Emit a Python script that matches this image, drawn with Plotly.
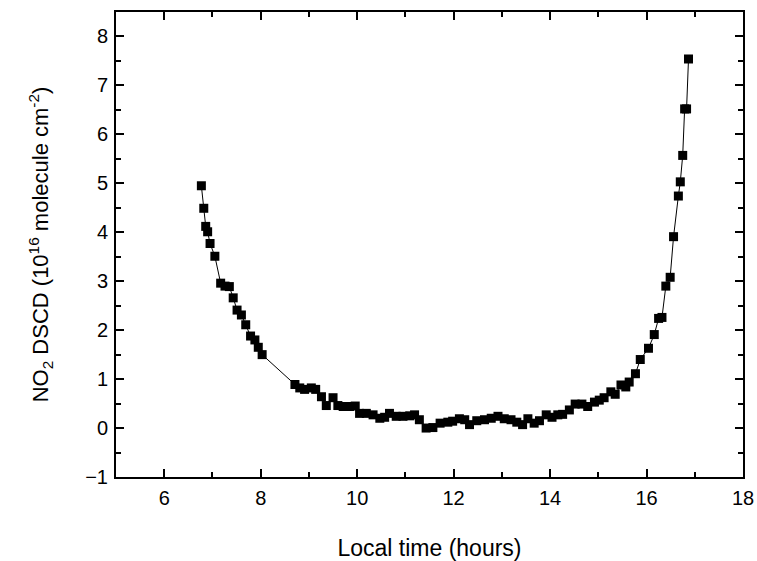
import plotly.graph_objects as go

local_time = [
    6.77, 6.82, 6.86, 6.90, 6.95, 7.05, 7.17, 7.26, 7.35, 7.43, 7.51, 7.60, 7.69, 7.79, 7.88, 7.95, 8.03,
    8.71, 8.81, 8.91, 9.05, 9.14, 9.26, 9.36, 9.50, 9.60, 9.71, 9.84, 9.96,
    10.05, 10.19, 10.33, 10.47, 10.57, 10.67, 10.81, 10.95,
    11.09, 11.19, 11.29, 11.43, 11.57, 11.72, 11.88, 11.98,
    12.12, 12.23, 12.33, 12.48, 12.64, 12.78, 12.92,
    13.05, 13.19, 13.31, 13.43, 13.54, 13.67, 13.78, 13.92,
    14.04, 14.16, 14.26, 14.40, 14.52, 14.66, 14.78, 14.92,
    15.02, 15.12, 15.26, 15.35, 15.47, 15.57, 15.64, 15.77, 15.87,
    16.04, 16.16, 16.25, 16.32, 16.40, 16.49, 16.56, 16.66, 16.70, 16.75, 16.79, 16.83, 16.87,
]

no2_dscd = [
    4.95, 4.49, 4.12, 4.01, 3.77, 3.51, 2.96, 2.90, 2.89, 2.66, 2.41, 2.31, 2.11, 1.88, 1.80, 1.65, 1.50,
    0.89, 0.82, 0.79, 0.82, 0.79, 0.64, 0.46, 0.62, 0.46, 0.44, 0.44, 0.45,
    0.30, 0.30, 0.27, 0.20, 0.22, 0.30, 0.24, 0.24,
    0.25, 0.27, 0.17, 0.00, 0.01, 0.10, 0.12, 0.14,
    0.19, 0.17, 0.07, 0.15, 0.17, 0.20, 0.24,
    0.19, 0.17, 0.12, 0.07, 0.19, 0.10, 0.15, 0.27,
    0.22, 0.27, 0.28, 0.37, 0.49, 0.49, 0.44, 0.53,
    0.57, 0.62, 0.74, 0.69, 0.88, 0.84, 0.94, 1.11, 1.40,
    1.63, 1.91, 2.24, 2.26, 2.90, 3.08, 3.91, 4.74, 5.03, 5.57, 6.52, 6.52, 7.54,
]

x_tick_vals = [6, 8, 10, 12, 14, 16, 18]
y_tick_vals = [-1, 0, 1, 2, 3, 4, 5, 6, 7, 8]

fig = go.Figure()
fig.add_trace(go.Scatter(
    x=local_time, y=no2_dscd, mode="lines+markers",
    line=dict(color="black", width=1),
    marker=dict(symbol="square", size=9, color="black"),
    showlegend=False,
))

family = "Liberation Sans, Arial, sans-serif"
tick_font = dict(family=family, size=20, color="black")
xtitle_font = dict(family=family, size=23, color="black")
ytitle_font = dict(family=family, size=22, color="black")

axis_common = dict(
    showline=True, linecolor="black", linewidth=2, mirror="allticks",
    ticks="inside", ticklen=8, tickwidth=1.5, tickcolor="black",
    showgrid=False, zeroline=False, tickfont=tick_font,
    ticklabeloverflow="allow",
)

fig.update_xaxes(
    range=[5, 18], tickvals=x_tick_vals, ticklabelstandoff=2,
    minor=dict(dtick=1, tick0=5, ticks="inside", ticklen=5, tickwidth=1.5, tickcolor="black"),
    title=dict(text="Local time (hours)", font=xtitle_font, standoff=34),
    **axis_common,
)
fig.update_yaxes(
    range=[-1, 8.5], tickvals=y_tick_vals, ticklabelstandoff=2,
    minor=dict(dtick=0.5, tick0=0, ticks="inside", ticklen=5, tickwidth=1.5, tickcolor="black"),
    title=dict(text="NO<sub>2</sub> DSCD (10<sup>16</sup> molecule cm<sup>-2</sup>)", font=ytitle_font, standoff=30),
    **axis_common,
)

# The page keeps its 8px top/left body margin, so the figure starts at (8, 8)
# and fills the rest of the 757x561 window.
fig.update_layout(
    width=749, height=553,
    margin=dict(l=108, r=14, t=2, b=73),
    paper_bgcolor="white", plot_bgcolor="white",
    font=tick_font,
)

fig.write_html(
    "out.html",
    config={"displayModeBar": False},
    post_script="document.body.style.margin='8px 0 0 8px';",
)
